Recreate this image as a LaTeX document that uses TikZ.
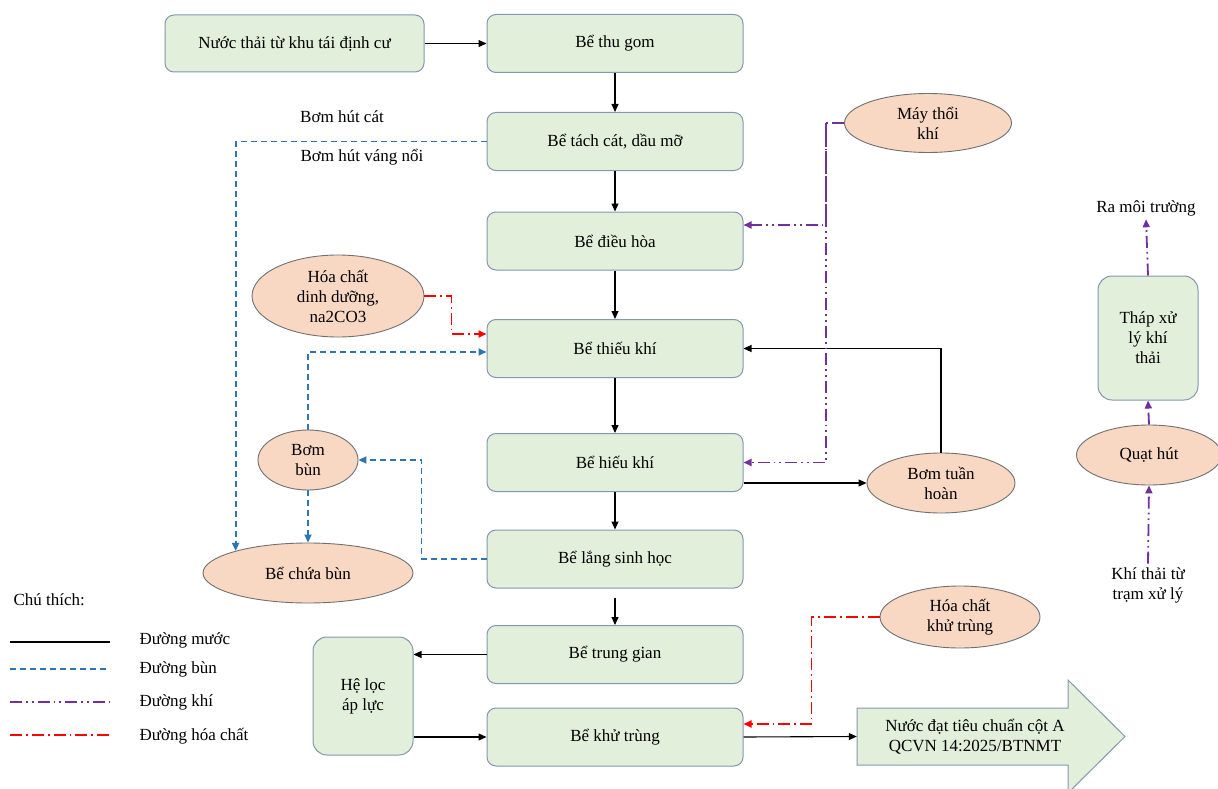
\documentclass[tikz,border=0pt]{standalone}
\usepackage{fontspec}
\setmainfont{Liberation Serif}
\usetikzlibrary{shapes.geometric,arrows.meta,calc}
\definecolor{boxfill}{HTML}{E2EFDA}
\definecolor{boxline}{HTML}{8497B0}
\definecolor{ellfill}{HTML}{F8D7C3}
\definecolor{ellline}{HTML}{707070}
\definecolor{sludgec}{HTML}{2E75B6}
\definecolor{airc}{HTML}{7030A0}
\definecolor{chemc}{HTML}{FF0000}
\newcommand\myfs{\fontsize{17}{20}\selectfont}
\begin{document}
\begin{tikzpicture}[x=1pt,y=-1pt,font=\myfs,
  procbox/.style={draw=boxline,fill=boxfill,rounded corners=9pt,line width=1pt,align=center,inner sep=0pt,minimum width=256pt,minimum height=58pt},
  ell/.style={ellipse,draw=ellline,fill=ellfill,line width=0.9pt,align=center,inner sep=0pt},
  water/.style={draw=black,line width=1.1pt,-{Triangle[length=8pt,width=7pt]}},
  sludge/.style={draw=sludgec,line width=1.8pt,dash pattern=on 6pt off 4pt,-{Triangle[length=8pt,width=7pt]}},
  air/.style={draw=airc,line width=1.8pt,dash pattern=on 12pt off 4pt on 1.8pt off 4pt on 1.8pt off 4pt,-{Triangle[length=8pt,width=7pt]}},
  chem/.style={draw=chemc,line width=1.8pt,dash pattern=on 12pt off 4pt on 1.8pt off 4pt,-{Triangle[length=8pt,width=7pt]}},
  legline/.style={line width=1.8pt}]
\useasboundingbox (0,0) rectangle (1218,789);
\fill[white] (0,0) rectangle (1218,789);

% main column
\node[procbox,minimum width=259pt,minimum height=57pt] (src) at (294.5,43.5) {Nước thải từ khu tái định cư};
\node[procbox] (thugom) at (615,43.5) {Bể thu gom};
\node[procbox] (tachcat) at (615,141.5) {Bể tách cát, dầu mỡ};
\node[procbox] (dieuhoa) at (615,241) {Bể điều hòa};
\node[procbox] (thieukhi) at (615,348.5) {Bể thiếu khí};
\node[procbox] (hieukhi) at (615,462.5) {Bể hiếu khí};
\node[procbox] (lang) at (615,559) {Bể lắng sinh học};
\node[procbox] (trunggian) at (615,654.5) {Bể trung gian};
\node[procbox] (khutrung) at (615,737) {Bể khử trùng};
\node[procbox,minimum width=100pt,minimum height=118pt,rounded corners=14pt] (heloc) at (363,696) {Hệ lọc\\áp lực};
\node[procbox,minimum width=100pt,minimum height=124pt,rounded corners=14pt] (thap) at (1148,338) {Tháp xử\\lý khí\\thải};

% ellipses
\node[ell,minimum width=167pt,minimum height=59pt] (maythoi) at (928,123) {Máy thổi\\khí};
\node[ell,minimum width=172pt,minimum height=82pt] (hc1) at (338,296) {Hóa chất\\dinh dưỡng,\\na2CO3};
\node[ell,minimum width=100pt,minimum height=60pt] (bombun) at (308,460) {Bơm\\bùn};
\node[ell,minimum width=210pt,minimum height=60pt] (bechua) at (308,573) {Bể chứa bùn};
\node[ell,minimum width=148pt,minimum height=60pt] (bomtuan) at (941,483) {Bơm tuần\\hoàn};
\node[ell,minimum width=160pt,minimum height=62pt] (hc2) at (960,617) {Hóa chất\\khử trùng};
\node[ell,minimum width=145pt,minimum height=60pt] (quat) at (1149,455) {Quạt hút};

% texts
\node (ramoi) at (1146,208) {Ra môi trường};
\node[align=center] (khithai) at (1148,585) {Khí thải từ\\trạm xử lý};
\node (lbl1) at (342,117) {Bơm hút cát};
\node (lbl2) at (362,157) {Bơm hút váng nổi};

% output arrow
\draw[draw=boxline,fill=boxfill,line width=1pt] (857,708) -- (1068,708) -- (1068,680) -- (1125,736.5) -- (1068,793) -- (1068,765) -- (857,765) -- cycle;
\node[minimum width=236pt,minimum height=57pt,inner sep=0pt,align=center] (out) at (975,736.5) {Nước đạt tiêu chuẩn cột A\\QCVN 14:2025/BTNMT};

% water lines
\draw[water] (src) -- (thugom);
\draw[water] (thugom) -- (tachcat);
\draw[water] (tachcat) -- (dieuhoa);
\draw[water] (dieuhoa) -- (thieukhi);
\draw[water] (thieukhi) -- (hieukhi);
\draw[water] (hieukhi) -- (lang);
\draw[water] ($(lang.south)+(0,9)$) -- (trunggian.north);
\draw[water] (trunggian.west) -- (trunggian.west -| heloc.east);
\draw[water] (khutrung.west -| heloc.east) -- (khutrung.west);
\draw[water] (khutrung.east) -- (out.west);
\draw[water] ($(hieukhi.east)+(0,20.5)$) -- (bomtuan.west);
\draw[water] (bomtuan.north) |- (thieukhi.east);

% sludge lines
\draw[sludge] (tachcat.west) -| (bechua.163);
\draw[sludge] (bombun.north) |- ($(thieukhi.west)+(0,3.5)$);
\draw[sludge] (lang.west) -- ++(-65,0) |- (bombun.east);
\draw[sludge] (bombun.south) -- (bechua.north);

% chemical lines
\draw[chem] (hc1.east) -- ++(27,0) |- ($(thieukhi.west)+(0,-14.5)$);
\draw[chem] (hc2.west) -- ++(-68,0) |- ($(khutrung.east)+(0,-13)$);

% air lines
\coordinate (pv) at ($(maythoi.west)+(-18,0)$);
\draw[air] (maythoi.west) -- (pv) |- (hieukhi.east);
\draw[air] (pv) |- ($(dieuhoa.east)+(0,-16)$);
\draw[air] (khithai.north) -- (quat.south);
\draw[air] (quat.north) -- (thap.south);
\draw[air] (thap.north) -- (ramoi.south);

% legend
\node[anchor=west] (leg) at (10,600) {Chú thích:};
\coordinate (a1) at (10,642); \coordinate (b1) at (110,642);
\coordinate (a2) at (10,669); \coordinate (b2) at (110,669);
\coordinate (a3) at (10,702); \coordinate (b3) at (110,702);
\coordinate (a4) at (10,735); \coordinate (b4) at (110,735);
\draw[black,line width=1.2pt] (a1) -- (b1);
\draw[legline,draw=sludgec,dash pattern=on 6pt off 4pt] (a2) -- (b2);
\draw[legline,draw=airc,dash pattern=on 12pt off 4pt on 1.8pt off 4pt on 1.8pt off 4pt] (a3) -- (b3);
\draw[legline,draw=chemc,dash pattern=on 12pt off 4pt on 1.8pt off 4pt] (a4) -- (b4);
\node[anchor=west] (l1) at (136,640) {Đường mước};
\node[anchor=west] (l2) at (136,669) {Đường bùn};
\node[anchor=west] (l3) at (136,702) {Đường khí};
\node[anchor=west] (l4) at (136,736) {Đường hóa chất};
\end{tikzpicture}
\end{document}
